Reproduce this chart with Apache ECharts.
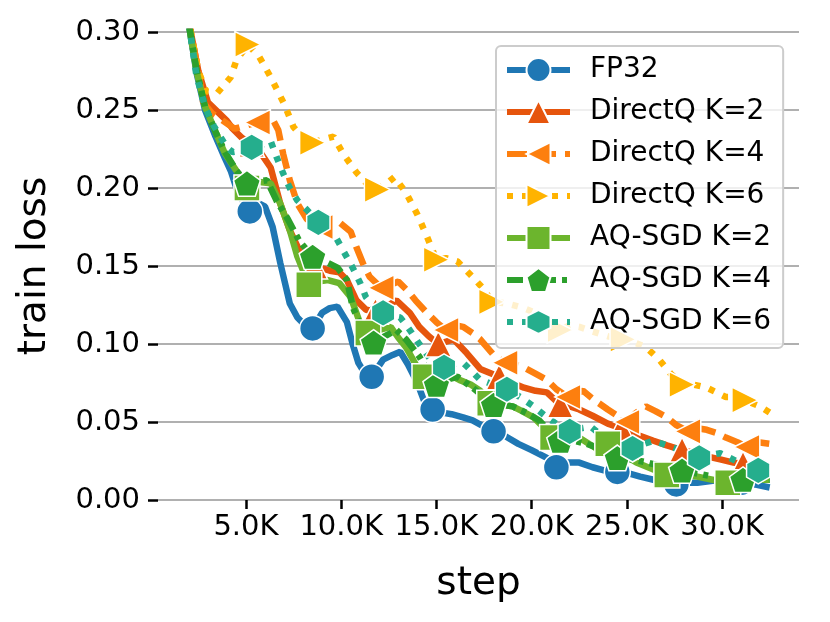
<!DOCTYPE html>
<html>
<head>
<meta charset="utf-8">
<script src="https://cdn.jsdelivr.net/npm/echarts@6/dist/echarts.min.js"></script>
<style>
html, body { margin: 0; padding: 0; background: #fff; }
#container { width: 830px; height: 622px; }
</style>
</head>
<body>
<div id="container"></div>
<script>
// step -> train loss
const fp32 = [[1900,0.325],[2000,0.305],[2400,0.274],[2850,0.25],[3400,0.233],[3900,0.219],[4200,0.211],[4600,0.196],[5200,0.185],[5700,0.19],[6000,0.188],[6400,0.175],[6800,0.152],[7300,0.126],[7700,0.117],[8100,0.112],[8500,0.110],[9000,0.12],[9400,0.123],[9800,0.124],[10300,0.114],[10600,0.10],[10900,0.088],[11200,0.082],[11600,0.079],[12200,0.090],[12700,0.093],[13100,0.095],[13500,0.087],[14000,0.075],[14400,0.062],[14800,0.058],[15300,0.056],[15800,0.055],[16400,0.053],[16900,0.051],[17500,0.047],[18000,0.044],[18600,0.041],[19300,0.036],[20000,0.032],[20800,0.027],[21300,0.021],[21900,0.024],[22500,0.024],[23200,0.021],[23800,0.019],[24500,0.018],[25100,0.017],[25700,0.015],[26400,0.013],[27100,0.011],[27600,0.010],[28200,0.011],[28700,0.011],[29300,0.012],[29900,0.013],[30500,0.012],[31000,0.011],[31700,0.010],[32500,0.008]];
const directQ2 = [[1900,0.33],[2100,0.30],[2500,0.275],[3000,0.255],[3500,0.249],[4000,0.243],[4300,0.238],[4800,0.232],[5300,0.228],[5800,0.222],[6300,0.213],[6800,0.19],[7300,0.173],[7800,0.160],[8200,0.153],[8600,0.150],[9400,0.147],[9900,0.146],[10300,0.141],[10800,0.128],[11300,0.122],[11800,0.121],[12400,0.124],[12900,0.128],[13600,0.12],[14100,0.111],[14600,0.105],[15100,0.100],[15900,0.103],[16600,0.094],[17300,0.084],[18300,0.079],[19000,0.075],[19600,0.072],[20200,0.070],[20800,0.069],[21500,0.061],[22000,0.060],[22500,0.058],[23200,0.054],[24000,0.049],[24700,0.046],[25500,0.042],[26400,0.038],[27100,0.035],[27900,0.032],[28600,0.030],[29200,0.028],[29900,0.026],[30600,0.024],[31100,0.023],[31800,0.021],[32500,0.020]];
const directQ4 = [[1900,0.33],[2100,0.30],[2500,0.275],[2750,0.255],[3200,0.248],[3800,0.243],[4400,0.238],[5000,0.24],[5600,0.242],[6000,0.245],[6400,0.244],[6700,0.237],[6950,0.222],[7300,0.205],[7700,0.19],[8200,0.18],[8900,0.175],[9300,0.181],[9900,0.178],[10500,0.172],[10800,0.162],[11200,0.15],[11500,0.143],[12100,0.136],[12600,0.138],[13000,0.14],[13500,0.134],[13900,0.128],[14500,0.12],[15000,0.114],[15500,0.109],[16000,0.112],[16400,0.111],[16900,0.107],[17300,0.103],[18000,0.093],[18600,0.088],[19100,0.087],[19600,0.085],[20200,0.081],[20800,0.077],[21300,0.071],[21900,0.066],[22300,0.068],[22700,0.07],[23300,0.064],[24000,0.058],[24500,0.054],[25000,0.05],[25500,0.056],[26000,0.06],[26500,0.057],[27100,0.053],[27600,0.048],[28200,0.044],[28700,0.046],[29200,0.045],[29700,0.043],[30200,0.04],[30800,0.037],[31300,0.034],[31900,0.037],[32500,0.036]];
const directQ6 = [[1900,0.33],[2100,0.30],[2500,0.275],[2900,0.262],[3500,0.261],[4200,0.271],[4500,0.282],[5100,0.292],[5700,0.284],[6300,0.271],[7000,0.254],[7500,0.239],[8000,0.232],[8500,0.229],[9000,0.231],[9600,0.233],[10100,0.222],[10800,0.21],[11400,0.202],[11900,0.199],[12400,0.203],[12800,0.207],[13400,0.197],[14000,0.183],[14500,0.169],[15000,0.154],[15500,0.155],[16100,0.153],[16900,0.143],[17500,0.135],[17900,0.127],[18700,0.126],[19600,0.123],[20200,0.12],[20800,0.117],[21500,0.109],[22000,0.112],[22500,0.111],[23200,0.108],[24000,0.105],[24800,0.103],[25400,0.101],[26000,0.098],[26700,0.09],[27300,0.081],[27900,0.074],[28500,0.074],[29200,0.072],[29700,0.069],[30200,0.066],[30700,0.066],[31200,0.064],[32000,0.06],[32500,0.056]];
const aqsgd2 = [[1900,0.325],[2000,0.305],[2400,0.275],[2850,0.252],[3400,0.236],[3900,0.222],[4500,0.211],[5050,0.2],[5600,0.204],[6300,0.203],[6800,0.19],[7300,0.173],[7700,0.156],[8300,0.138],[8800,0.14],[9300,0.141],[9900,0.139],[10500,0.13],[11000,0.113],[11400,0.107],[12000,0.109],[12600,0.111],[13000,0.104],[13400,0.098],[14000,0.085],[14400,0.079],[14800,0.081],[15200,0.083],[15700,0.08],[16200,0.077],[16800,0.074],[17300,0.07],[17800,0.062],[18400,0.061],[19000,0.06],[19500,0.057],[20100,0.053],[20600,0.047],[21100,0.04],[21800,0.041],[22500,0.04],[23000,0.036],[23400,0.033],[24000,0.036],[24700,0.03],[25500,0.024],[26300,0.02],[27100,0.016],[27900,0.016],[28700,0.015],[29500,0.013],[30300,0.011],[31000,0.012],[31800,0.013],[32500,0.013]];
const aqsgd4 = [[1900,0.325],[2000,0.305],[2400,0.276],[2850,0.252],[3400,0.236],[3900,0.223],[4500,0.211],[5050,0.203],[5600,0.204],[6100,0.205],[6600,0.192],[7200,0.18],[7800,0.166],[8500,0.156],[8900,0.154],[9300,0.152],[9800,0.149],[10300,0.141],[10600,0.124],[11000,0.112],[11700,0.101],[12300,0.105],[12900,0.109],[13400,0.103],[14100,0.092],[14600,0.082],[15000,0.074],[15500,0.077],[16100,0.079],[16900,0.072],[17500,0.066],[18000,0.061],[18500,0.061],[19000,0.06],[19700,0.056],[20400,0.051],[21000,0.043],[21500,0.038],[22200,0.038],[22900,0.036],[23800,0.032],[24500,0.027],[25300,0.026],[26100,0.024],[27000,0.021],[27900,0.019],[28700,0.017],[29500,0.015],[30300,0.014],[31100,0.013],[31800,0.013],[32500,0.013]];
const aqsgd6 = [[1900,0.325],[2000,0.305],[2400,0.272],[2850,0.252],[3300,0.24],[4000,0.226],[4300,0.223],[4800,0.224],[5300,0.226],[5900,0.228],[6300,0.23],[6600,0.22],[7000,0.208],[7300,0.2],[7700,0.192],[8200,0.186],[8800,0.178],[9200,0.175],[9600,0.171],[10100,0.16],[10600,0.149],[11000,0.139],[11300,0.13],[11700,0.124],[12200,0.12],[12600,0.118],[13100,0.117],[13600,0.109],[14100,0.1],[14700,0.09],[15400,0.085],[15900,0.087],[16400,0.088],[16900,0.082],[17300,0.077],[18000,0.074],[18700,0.071],[19400,0.066],[20100,0.06],[20800,0.053],[21400,0.048],[22000,0.044],[22600,0.046],[23100,0.047],[23600,0.042],[24000,0.038],[24600,0.036],[25300,0.033],[25900,0.036],[26400,0.038],[27100,0.035],[27800,0.032],[28800,0.027],[29400,0.029],[29900,0.03],[30400,0.027],[30900,0.024],[31400,0.021],[31900,0.019],[32500,0.015]];

// steps where each curve carries a marker
const fp32Marks = [5200,8500,11600,14800,18000,21300,24500,27600,31000];
const directQ2Marks = [5300,8600,11800,15100,18300,21500,24700,27900,31100];
const directQ4Marks = [5600,8900,12100,15500,18600,21900,25000,28200,31300];
const directQ6Marks = [5100,8500,11900,15000,17900,21500,24800,27900,31200];
const aqsgd2Marks = [5050,8300,11400,14400,17800,21100,24000,27100,30300];
const aqsgd4Marks = [5050,8500,11700,15000,18000,21500,24500,27900,31100];
const aqsgd6Marks = [5300,8800,12200,15400,18700,22000,25300,28800,31900];

const names = ['FP32','DirectQ K=2','DirectQ K=4','DirectQ K=6','AQ-SGD K=2','AQ-SGD K=4','AQ-SGD K=6'];
const xTicks = [5000,10000,15000,20000,25000,30000];

const FONT = 'DejaVu Sans';
const PENTAGON = 'path://M0,-1 L0.951,-0.309 L0.588,0.809 L-0.588,0.809 L-0.951,-0.309 Z';
const HEXAGON = 'path://M0,-1 L0.866,-0.5 L0.866,0.5 L0,1 L-0.866,0.5 L-0.866,-0.5 Z';
const TRI_LEFT = 'path://M-1,0 L1,-1 L1,1 Z';
const TRI_RIGHT = 'path://M1,0 L-1,-1 L-1,1 Z';

function makeLine(name, pts, marks, color, dash, symbol, size) {
    return {
        name: name,
        type: 'line',
        data: pts.map(function (p) {
            return marks.indexOf(p[0]) >= 0 ? p : { value: p, symbol: 'none' };
        }),
        showSymbol: true,
        symbol: symbol,
        symbolSize: size,
        symbolKeepAspect: true,
        clip: true,
        lineStyle: { color: color, width: 6.5, type: dash },
        itemStyle: { color: color, borderColor: '#ffffff', borderWidth: 1.5 },
        emphasis: { disabled: true }
    };
}

const dom = document.getElementById('container');
const myChart = echarts.init(dom);
let option = {
    animation: false,
    backgroundColor: '#ffffff',
    textStyle: { fontFamily: FONT },
    grid: { left: 158, top: 32, right: 31, bottom: 122 },
    xAxis: {
        type: 'value',
        min: 380,
        max: 34040,
        name: 'step',
        nameLocation: 'middle',
        nameGap: 64,
        nameTextStyle: { fontSize: 39, color: '#000', fontFamily: FONT },
        axisLine: { show: false },
        splitLine: { show: false },
        axisTick: { show: true, length: 9, customValues: xTicks, lineStyle: { color: '#000', width: 2.5 } },
        axisLabel: {
            customValues: xTicks,
            fontSize: 29, color: '#000', fontFamily: FONT, margin: 13,
            formatter: function (v) { return (v / 1000).toFixed(1) + 'K'; }
        }
    },
    yAxis: {
        type: 'value',
        min: 0,
        max: 0.3,
        interval: 0.05,
        name: 'train loss',
        nameLocation: 'middle',
        nameGap: 104,
        nameTextStyle: { fontSize: 39, color: '#000', fontFamily: FONT },
        axisLine: { show: false },
        axisTick: { show: true, length: 10, lineStyle: { color: '#000', width: 2.5 } },
        splitLine: { show: true, lineStyle: { color: '#b0b0b0', width: 2.2 } },
        axisLabel: {
            fontSize: 29, color: '#000', fontFamily: FONT, margin: 18,
            formatter: function (v) { return v.toFixed(2); }
        }
    },
    legend: {
        orient: 'vertical',
        left: 496,
        top: 46,
        padding: [10, 12, 12, 8],
        itemWidth: 63,
        itemHeight: 30,
        itemGap: 14,
        backgroundColor: 'rgba(255,255,255,0.8)',
        borderColor: '#cccccc',
        borderWidth: 2,
        borderRadius: 5,
        data: names,
        lineStyle: { width: 6 },
        textStyle: { fontSize: 28, color: '#000', fontFamily: FONT, padding: [0, 0, 0, 15] }
    },
    series: [
        makeLine(names[0], fp32, fp32Marks, '#1f77b4', 'solid', 'circle', 26),
        makeLine(names[1], directQ2, directQ2Marks, '#e6550d', 'solid', 'triangle', 26),
        makeLine(names[2], directQ4, directQ4Marks, '#fd7f0f', [20, 9], TRI_LEFT, 26),
        makeLine(names[3], directQ6, directQ6Marks, '#ffb300', [6, 9], TRI_RIGHT, 26),
        makeLine(names[4], aqsgd2, aqsgd2Marks, '#6cb52d', 'solid', 'rect', 26),
        makeLine(names[5], aqsgd4, aqsgd4Marks, '#2ca02c', [16, 6, 5, 6], PENTAGON, 27),
        makeLine(names[6], aqsgd6, aqsgd6Marks, '#25ae8d', [6, 9], HEXAGON, 27)
    ]
};
if (option && typeof option === 'object') {
    myChart.setOption(option, true);
}
</script>
</body>
</html>
